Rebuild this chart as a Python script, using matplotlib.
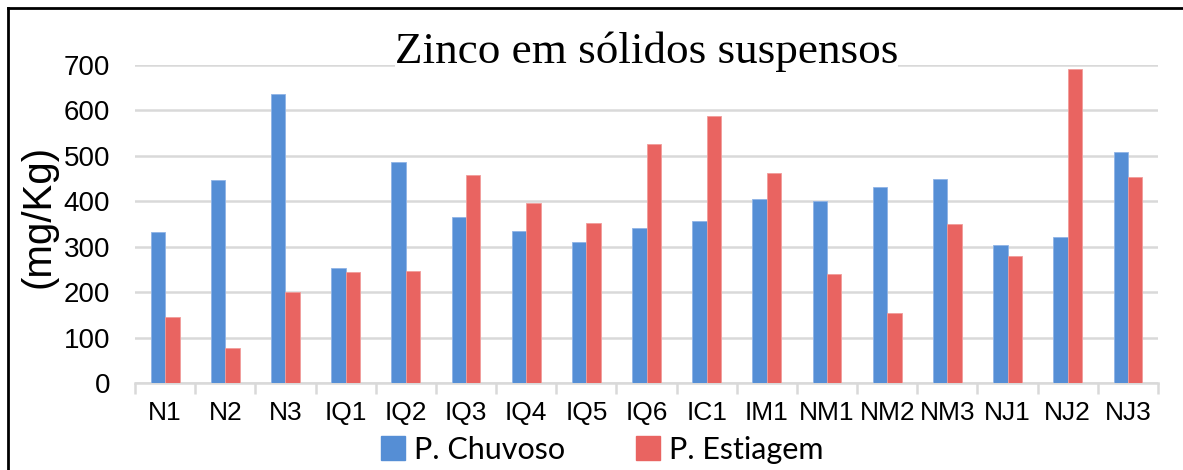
import matplotlib
matplotlib.use("Agg")
import matplotlib.pyplot as plt
import numpy as np
from matplotlib.lines import Line2D
from matplotlib.patches import Patch

plt.rcParams["font.family"] = ["Liberation Sans", "DejaVu Sans"]

# Zinc in suspended solids per sampling point, rainy vs dry period
sites = ["N1", "N2", "N3", "IQ1", "IQ2", "IQ3", "IQ4", "IQ5", "IQ6",
         "IC1", "IM1", "NM1", "NM2", "NM3", "NJ1", "NJ2", "NJ3"]
chuvoso = [333, 447, 637, 253, 487, 365, 335, 311, 342,
           356, 405, 401, 431, 448, 303, 321, 509]
estiagem = [146, 78, 200, 244, 247, 458, 397, 353, 527,
            587, 463, 239, 153, 349, 280, 692, 454]

blue = "#558ed5"
red = "#e96461"

fig = plt.figure(figsize=(11.83, 4.70), dpi=100)
ax = fig.add_axes([0.1141, 0.1851, 0.8648, 0.6766])

x = np.arange(len(sites))
w = 0.24
ax.bar(x - w / 2, chuvoso, w, color=blue, edgecolor="#8fb4e6", linewidth=0.6, zorder=3)
ax.bar(x + w / 2, estiagem, w, color=red, edgecolor="#f19c9a", linewidth=0.6, zorder=3)

ax.set_xlim(-0.5, len(sites) - 0.5)
ax.set_ylim(0, 700)
ax.set_yticks(range(0, 701, 100))
ax.yaxis.grid(True, color="#d9d9d9", linewidth=1.8, zorder=0)
ax.set_axisbelow(True)

for s in ["top", "right", "left"]:
    ax.spines[s].set_visible(False)
ax.spines["bottom"].set_color("#d9d9d9")
ax.spines["bottom"].set_linewidth(1.8)

ax.set_xticks(x)
ax.set_xticklabels(sites, fontsize=19)
ax.set_xticks(np.arange(-0.5, len(sites), 1), minor=True)
ax.tick_params(axis="x", which="major", length=0, pad=13)
ax.tick_params(axis="x", which="minor", length=8, width=1.8, color="#d9d9d9")
ax.tick_params(axis="y", length=0, pad=18, labelsize=20)

ax.set_ylabel("(mg/Kg)", fontsize=29, labelpad=4)
ax.yaxis.label.set_y(0.525)

# title sits over the top gridline, with a white box behind the text
fig.text(0.5465, 0.866, "Zinco em sólidos suspensos", fontsize=32.5,
         family="Liberation Serif", ha="center", va="baseline", zorder=5,
         bbox=dict(facecolor="white", edgecolor="none", pad=0))

handles = [Patch(color=blue, label="P. Chuvoso"), Patch(color=red, label="P. Estiagem")]
fig.legend(handles=handles, loc="center", bbox_to_anchor=(0.509, 0.043), ncol=2,
           frameon=False, prop={"family": "Lato", "size": 22},
           handlelength=0.8, handleheight=0.8, handletextpad=0.3, columnspacing=2.3)

# outer frame (left and top edges only)
fig.add_artist(Line2D([0.0065, 0.0065], [0, 0.983], color="black", linewidth=2, transform=fig.transFigure))
fig.add_artist(Line2D([0.0065, 1], [0.983, 0.983], color="black", linewidth=2, transform=fig.transFigure))

fig.savefig("out.png", dpi=100)
